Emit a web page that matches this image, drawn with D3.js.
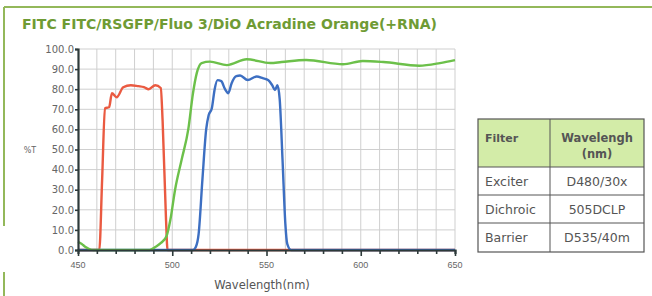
<!DOCTYPE html>
<html>
<head>
<meta charset="utf-8">
<script src="https://cdn.jsdelivr.net/npm/d3@7"></script>
<style>
  body { margin: 0; background: #fff; }
  svg { display: block; font-family: "DejaVu Sans", sans-serif; }
</style>
</head>
<body>
<svg id="chart"></svg>
<script>
var W = 652, H = 296;

// transmission curves (nm, %T)
var exciterNm = [450, 460, 461.3, 462.8, 464.3, 466.5, 468, 470.5, 474, 478, 482, 485, 487.5, 491, 493.9, 494.9, 496.7, 497.5, 500, 650];
var exciterT  = [0,   0,   0,     35,    70.5,  71,    78,  76,    81,  82,  81.5, 81, 80,    82,  80.6,  64,    15,    0,     0,   0];

var dichroicNm = [450, 452, 454, 456, 458, 488, 491, 494, 497, 499, 501.5, 505, 508.5, 511, 513, 515.6, 520, 529, 539.5, 552, 558, 571, 590.6, 601, 612, 631, 642, 650];
var dichroicT  = [4,   3,   1.5, 0.5, 0,   0,   1.5, 3.5, 7,   15,  30,    45,  60,    78,  88,  93,    93.7, 92, 94.9,  93,  93.5, 94.5, 92.4, 94, 93.5, 91.7, 93, 94.5];

var barrierNm = [450, 511, 512.5, 514, 516, 518, 519.3, 521, 522.5, 524, 526, 528, 529.7, 531.5, 534, 536, 540, 544.8, 548, 551, 553, 554.5, 555.8, 557, 558.5, 560, 561, 563, 650];
var barrierT  = [0,   0,   1.5,   8,   35,  60,  67,    70.5, 80,   84.5, 84, 80, 78,    83,    86.5, 86.8, 84.6, 86.3, 85.5, 84.5, 82, 79.6, 82,   75,  45,    13,  3,   0,   0];

var yTicks = [0, 10, 20, 30, 40, 50, 60, 70, 80, 90, 100];
var xLabels = [450, 500, 550, 600, 650];

var tableHead = ["Filter", "Wavelengh", "(nm)"];
var tableFilters = ["Exciter", "Dichroic", "Barrier"];
var tableWaves = ["D480/30x", "505DCLP", "D535/40m"];

var svg = d3.select("#chart").attr("width", W).attr("height", H);

// frame
svg.append("line").attr("x1", 4).attr("y1", 7).attr("x2", W).attr("y2", 7)
  .attr("stroke", "#93b85a").attr("stroke-width", 2);
svg.append("line").attr("x1", 4).attr("y1", 7).attr("x2", 4).attr("y2", 226)
  .attr("stroke", "#93b85a").attr("stroke-width", 2);
svg.append("line").attr("x1", 4).attr("y1", 272).attr("x2", 4).attr("y2", H)
  .attr("stroke", "#93b85a").attr("stroke-width", 2);

svg.append("text")
  .attr("x", 22).attr("y", 29)
  .attr("font-size", 14).attr("font-weight", "bold")
  .attr("fill", "#6f9b34")
  .attr("textLength", 415).attr("lengthAdjust", "spacingAndGlyphs")
  .text("FITC FITC/RSGFP/Fluo 3/DiO Acradine Orange(+RNA)");

var x = d3.scaleLinear().domain([450, 650]).range([78, 455]);
var y = d3.scaleLinear().domain([0, 100]).range([250, 49]);

// grid
var grid = svg.append("g");
grid.selectAll(".gx")
  .data(d3.range(460, 651, 10))
  .enter().append("line")
  .attr("x1", d => x(d)).attr("x2", d => x(d))
  .attr("y1", y(0)).attr("y2", y(100))
  .attr("stroke", "#cfcfcf").attr("stroke-width", 1);
grid.selectAll(".gy")
  .data(yTicks.slice(1))
  .enter().append("line")
  .attr("x1", x(450)).attr("x2", x(650))
  .attr("y1", d => y(d)).attr("y2", d => y(d))
  .attr("stroke", "#cfcfcf").attr("stroke-width", 1);

// curves
var line = d3.line().x(d => x(d[0])).y(d => y(d[1])).curve(d3.curveMonotoneX);
function addCurve(nm, t, color) {
  svg.append("path")
    .datum(d3.zip(nm, t))
    .attr("d", line)
    .attr("fill", "none")
    .attr("stroke", color)
    .attr("stroke-width", 2.4)
    .attr("stroke-linejoin", "round");
}
addCurve(exciterNm, exciterT, "#ea5a41");
addCurve(barrierNm, barrierT, "#3d6fc2");
addCurve(dichroicNm, dichroicT, "#6cc04a");

// axes
var xAxis = svg.append("g").attr("transform", `translate(0,${y(0)})`)
  .call(d3.axisBottom(x).tickValues(d3.range(450, 651, 10)).tickSize(4).tickFormat(""));
xAxis.select(".domain").attr("stroke", "#2d3a3a").attr("stroke-width", 2.2);
xAxis.selectAll(".tick line").attr("stroke", "#2d3a3a").attr("stroke-width", 1.6)
  .attr("y2", d => xLabels.includes(d) ? 6 : 4);
xAxis.selectAll(".lbl")
  .data(xLabels)
  .enter().append("text")
  .attr("x", d => x(d)).attr("y", 18)
  .attr("text-anchor", "middle")
  .attr("font-size", 9).attr("fill", "#666")
  .text(d => d);

var yAxis = svg.append("g").attr("transform", `translate(${x(450)},0)`)
  .call(d3.axisLeft(y).tickValues(yTicks).tickSize(3).tickFormat(d3.format(".1f")));
yAxis.select(".domain").attr("stroke", "#2d3a3a").attr("stroke-width", 2.2);
yAxis.selectAll(".tick line").attr("stroke", "#2d3a3a").attr("stroke-width", 1.6);
yAxis.selectAll(".tick text").attr("font-size", 10).attr("fill", "#666")
  .attr("font-family", "DejaVu Sans, sans-serif").attr("x", -4);

svg.append("text").attr("x", 30).attr("y", 153)
  .attr("text-anchor", "middle").attr("font-size", 8).attr("fill", "#666")
  .text("%T");
svg.append("text").attr("x", 262).attr("y", 289)
  .attr("text-anchor", "middle").attr("font-size", 11.5).attr("fill", "#555")
  .text("Wavelength(nm)");

// table
var tx0 = 478, tx1 = 550, tx2 = 644;
var rowY = [119, 167, 195, 223, 252];
var tbl = svg.append("g");
tbl.append("rect").attr("x", tx0).attr("y", rowY[0])
  .attr("width", tx2 - tx0).attr("height", rowY[1] - rowY[0])
  .attr("fill", "#d3eca8");
tbl.append("rect").attr("x", tx0).attr("y", rowY[0])
  .attr("width", tx2 - tx0).attr("height", rowY[4] - rowY[0])
  .attr("fill", "none").attr("stroke", "#555").attr("stroke-width", 1.2);
tbl.selectAll(".hl")
  .data(rowY.slice(1, 4))
  .enter().append("line")
  .attr("x1", tx0).attr("x2", tx2).attr("y1", d => d).attr("y2", d => d)
  .attr("stroke", "#555").attr("stroke-width", 1);
tbl.append("line").attr("x1", tx1).attr("x2", tx1)
  .attr("y1", rowY[0]).attr("y2", rowY[4])
  .attr("stroke", "#555").attr("stroke-width", 1);

var cx = (tx1 + tx2) / 2;
tbl.append("text").attr("x", tx0 + 7).attr("y", 142)
  .attr("font-size", 11).attr("font-weight", "bold").attr("fill", "#555")
  .text(tableHead[0]);
tbl.append("text").attr("x", cx).attr("y", 142).attr("text-anchor", "middle")
  .attr("font-size", 11.5).attr("font-weight", "bold").attr("fill", "#555")
  .text(tableHead[1]);
tbl.append("text").attr("x", cx).attr("y", 158).attr("text-anchor", "middle")
  .attr("font-size", 11.5).attr("font-weight", "bold").attr("fill", "#555")
  .text(tableHead[2]);

tableFilters.forEach((f, i) => {
  var by = (rowY[i + 1] + rowY[i + 2]) / 2 + 4.5;
  tbl.append("text").attr("x", tx0 + 7).attr("y", by)
    .attr("font-size", 12.5).attr("fill", "#555").text(f);
  tbl.append("text").attr("x", cx).attr("y", by).attr("text-anchor", "middle")
    .attr("font-size", 12.5).attr("fill", "#555").text(tableWaves[i]);
});
</script>
</body>
</html>
